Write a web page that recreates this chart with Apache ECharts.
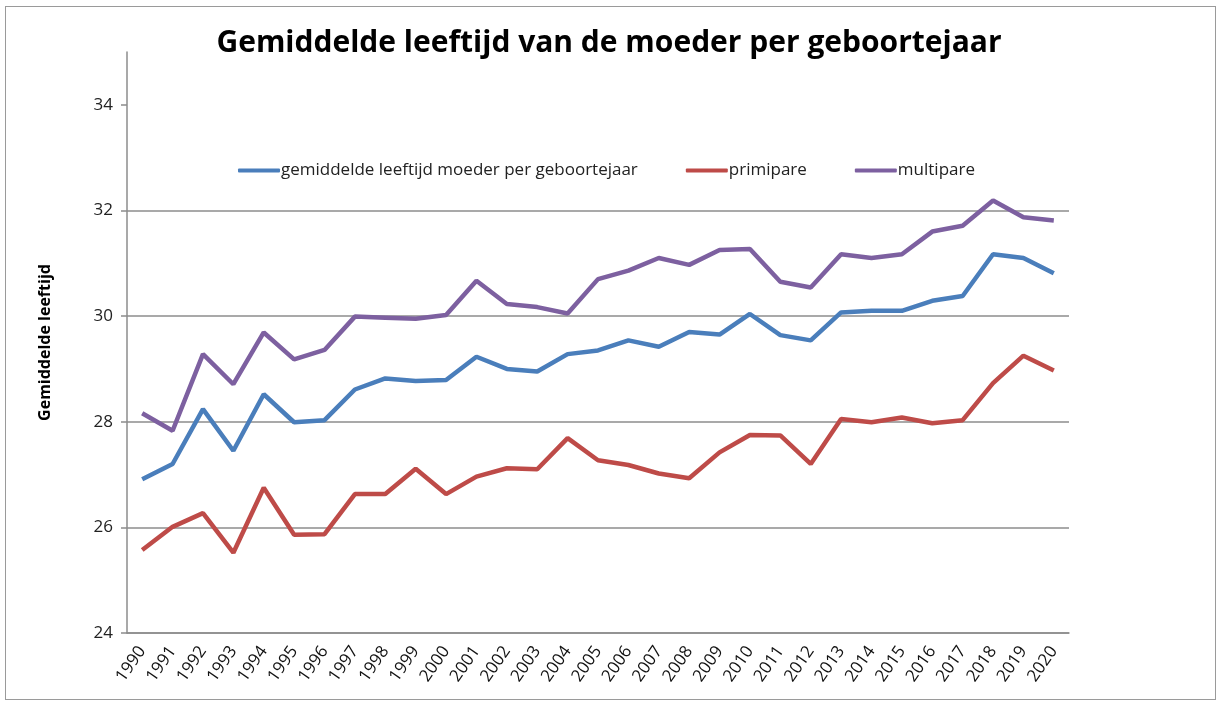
<!DOCTYPE html>
<html>
<head>
<meta charset="utf-8">
<script src="https://cdn.jsdelivr.net/npm/echarts@6/dist/echarts.min.js"></script>
<style>
  html, body { margin: 0; padding: 0; background: #fff; }
  .frame {
    position: absolute; left: 5px; top: 6px;
    width: 1209px; height: 692px;
    border: 1px solid #9a9a9a;
  }
  #chart { position: absolute; left: 0; top: 0; width: 1218px; height: 702px; }
</style>
</head>
<body>
<div class="frame"></div>
<div id="chart"></div>
<script>
// jaren
const years = ['1990','1991','1992','1993','1994','1995','1996','1997','1998','1999',
  '2000','2001','2002','2003','2004','2005','2006','2007','2008','2009',
  '2010','2011','2012','2013','2014','2015','2016','2017','2018','2019','2020'];

// gemiddelde leeftijd moeder per geboortejaar
const gemiddeld = [26.91, 27.20, 28.24, 27.45, 28.52, 27.99, 28.03, 28.61, 28.82, 28.77,
  28.79, 29.23, 29.00, 28.95, 29.28, 29.35, 29.54, 29.42, 29.70, 29.65,
  30.04, 29.64, 29.54, 30.07, 30.10, 30.10, 30.29, 30.38, 31.17, 31.10, 30.81];

// primipare
const primipare = [25.57, 26.01, 26.27, 25.52, 26.75, 25.86, 25.87, 26.63, 26.63, 27.11,
  26.63, 26.96, 27.12, 27.10, 27.69, 27.27, 27.18, 27.02, 26.93, 27.42,
  27.75, 27.74, 27.20, 28.05, 27.99, 28.08, 27.97, 28.03, 28.73, 29.25, 28.97];

// multipare
const multipare = [28.16, 27.83, 29.28, 28.71, 29.69, 29.18, 29.36, 29.99, 29.97, 29.95,
  30.02, 30.67, 30.23, 30.17, 30.05, 30.70, 30.86, 31.10, 30.97, 31.25,
  31.27, 30.65, 30.54, 31.17, 31.10, 31.17, 31.60, 31.71, 32.19, 31.87, 31.81];

const yTicks = [24, 26, 28, 30, 32, 34];

const font = '"Open Sans", "DejaVu Sans", sans-serif';
const gray = '#8c8c8c';

const chart = echarts.init(document.getElementById('chart'));

const lineSeries = (name, data, color) => ({
  name: name,
  type: 'line',
  data: data,
  symbol: 'none',
  lineStyle: { width: 4.5, color: color },
  itemStyle: { color: color }
});

const option = {
  animation: false,
  backgroundColor: 'transparent',
  title: {
    text: 'Gemiddelde leeftijd van de moeder per geboortejaar',
    left: 'center',
    top: 23,
    textStyle: {
      fontFamily: font,
      fontSize: 30,
      fontWeight: 'bold',
      color: '#000'
    }
  },
  legend: {
    left: 233,
    top: 157,
    itemWidth: 42,
    itemHeight: 4,
    itemGap: 48,
    icon: 'roundRect',
    textStyle: { fontFamily: font, fontSize: 17, color: '#222', padding: [0, 0, 0, -4] },
    data: ['gemiddelde leeftijd moeder per geboortejaar', 'primipare', 'multipare']
  },
  grid: {
    left: 127,
    right: 149,
    top: 52,
    bottom: 69
  },
  xAxis: {
    type: 'category',
    data: years,
    boundaryGap: true,
    axisLine: { lineStyle: { color: gray, width: 1.5 } },
    axisTick: { length: 6, lineStyle: { color: gray, width: 1.5 } },
    axisLabel: {
      rotate: 55,
      interval: 0,
      margin: 15,
      fontFamily: font,
      fontSize: 17,
      color: '#111'
    },
    splitLine: { show: false }
  },
  yAxis: {
    type: 'value',
    min: 24,
    max: 35,
    interval: 2,
    name: 'Gemiddelde leeftijd',
    nameLocation: 'middle',
    nameGap: 74,
    nameRotate: 90,
    nameTextStyle: {
      fontFamily: font,
      fontSize: 16,
      fontWeight: 'bold',
      color: '#000'
    },
    axisLine: { show: true, lineStyle: { color: gray, width: 1.5 } },
    axisTick: { show: true, length: 6, customValues: yTicks, lineStyle: { color: gray, width: 1.5 } },
    axisLabel: {
      customValues: yTicks,
      margin: 14,
      fontFamily: font,
      fontSize: 17,
      color: '#222'
    },
    splitLine: { show: true, showMaxLine: false, lineStyle: { color: gray, width: 1.5 } }
  },
  series: [
    lineSeries('gemiddelde leeftijd moeder per geboortejaar', gemiddeld, '#4a7ebb'),
    lineSeries('primipare', primipare, '#be4b48'),
    lineSeries('multipare', multipare, '#7d60a0')
  ]
};

chart.setOption(option);
window.addEventListener('resize', () => chart.resize());
</script>
</body>
</html>
